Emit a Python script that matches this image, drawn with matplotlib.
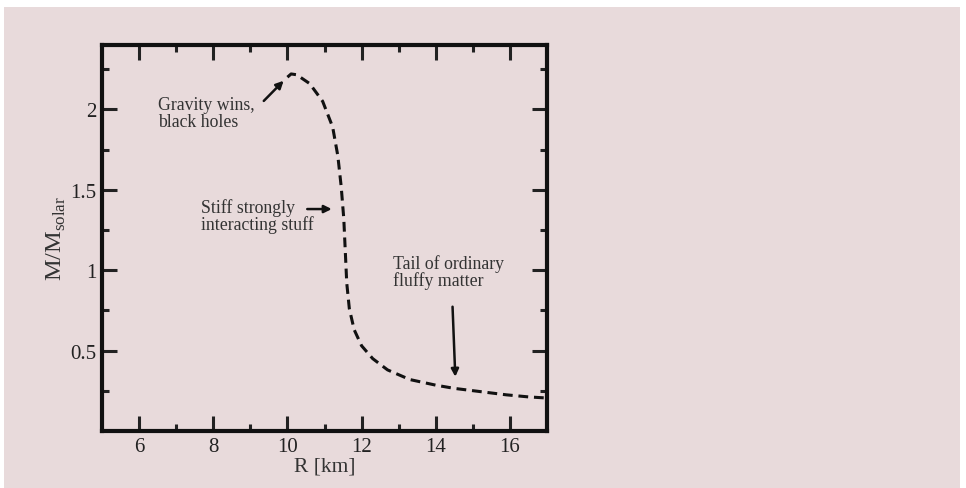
import numpy as np
import matplotlib
matplotlib.use('Agg')
import matplotlib.pyplot as plt
from matplotlib.patches import Rectangle

# mass-radius curve
R = [10.0, 10.1, 10.25, 10.6, 10.95, 11.22, 11.36, 11.45, 11.52, 11.56, 11.6,
     11.67, 11.8, 12.0, 12.3, 12.7, 13.3, 14.0, 14.5, 15.2, 15.9, 16.5, 17.0]
M = [2.20, 2.22, 2.215, 2.16, 2.05, 1.89, 1.71, 1.52, 1.32, 1.12, 0.92,
     0.76, 0.63, 0.53, 0.45, 0.38, 0.32, 0.285, 0.265, 0.245, 0.225, 0.212, 0.205]

xticks = [6, 8, 10, 12, 14, 16]
yticks = [0.5, 1, 1.5, 2]
ytick_labels = ['0.5', '1', '1.5', '2']

plt.rcParams['font.family'] = ['Liberation Serif', 'DejaVu Serif']
plt.rcParams['mathtext.fontset'] = 'custom'
plt.rcParams['mathtext.rm'] = 'Liberation Serif'

bg = '#e8dadb'
fig = plt.figure(figsize=(9.66, 4.89), dpi=100, facecolor='white')
fig.add_artist(Rectangle((4/966, 0), 956/966, 481/489, transform=fig.transFigure,
                         facecolor=bg, edgecolor='none', zorder=-10))

ax = fig.add_axes([102/966, 1 - 432/489, 445/966, (432 - 46)/489])
ax.set_zorder(1)
ax.set_facecolor(bg)
ax.plot(R, M, color='#111111', lw=2.2, ls=(0, (3.2, 1.9)))

ax.set_xlim(5, 17)
ax.set_ylim(0, 2.4)
ax.set_xticks(xticks)
ax.set_xticks(np.arange(7, 17, 2), minor=True)
ax.set_yticks(yticks)
ax.set_yticklabels(ytick_labels)
ax.set_yticks([0.25, 0.75, 1.25, 1.75, 2.25], minor=True)
ax.tick_params(which='both', direction='in', top=True, right=True, width=2.2,
               labelsize=15, colors='#222222', pad=4)
ax.tick_params(which='major', length=11)
ax.tick_params(which='minor', length=5)
for s in ax.spines.values():
    s.set_linewidth(3)
    s.set_color('#111111')

ax.set_xlabel('R [km]', fontsize=15.5, color='#333333', labelpad=1)
ax.set_ylabel(r'M/M$_{\mathrm{solar}}$', fontsize=17.5, color='#333333', labelpad=2)

txt = dict(fontsize=12.8, color='#333333', linespacing=0.95, va='top', ha='left')
ax.text(6.51, 2.08, 'Gravity wins,\nblack holes', **txt)
ax.text(7.68, 1.45, 'Stiff strongly\ninteracting stuff', **txt)
ax.text(12.84, 1.10, 'Tail of ordinary\nfluffy matter', **txt)

arr = dict(arrowstyle='-|>', color='#111111', lw=1.8, mutation_scale=11)
ax.annotate('', xy=(9.95, 2.19), xytext=(9.31, 2.04), arrowprops=arr)
ax.annotate('', xy=(11.27, 1.38), xytext=(10.46, 1.38), arrowprops=arr)
ax.annotate('', xy=(14.53, 0.32), xytext=(14.45, 0.79), arrowprops=arr)

fig.savefig('out.png', dpi=100, facecolor=fig.get_facecolor())
